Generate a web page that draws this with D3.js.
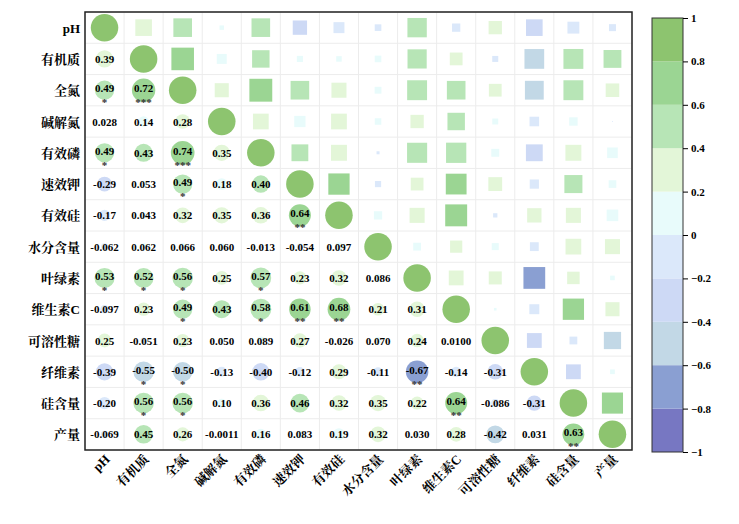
<!DOCTYPE html><html><head><meta charset="utf-8">
<script src="https://cdn.jsdelivr.net/npm/d3@7"></script>
<style>body{margin:0;background:#fff}</style></head><body><svg id="c" width="739" height="524"></svg>
<script>
const vars=["pH","有机质","全氮","碱解氮","有效磷","速效钾","有效硅","水分含量","叶绿素","维生素C","可溶性糖","纤维素","硅含量","产量"];
const lower=[
[],
[0.39],
[0.49,0.72],
[0.028,0.14,0.28],
[0.49,0.43,0.74,0.35],
[-0.29,0.053,0.49,0.18,0.40],
[-0.17,0.043,0.32,0.35,0.36,0.64],
[-0.062,0.062,0.066,0.060,-0.013,-0.054,0.097],
[0.53,0.52,0.56,0.25,0.57,0.23,0.32,0.086],
[-0.097,0.23,0.49,0.43,0.58,0.61,0.68,0.21,0.31],
[0.25,-0.051,0.23,0.050,0.089,0.27,-0.026,0.070,0.24,0.0100],
[-0.39,-0.55,-0.50,-0.13,-0.40,-0.12,0.29,-0.11,-0.67,-0.14,-0.31],
[-0.20,0.56,0.56,0.10,0.36,0.46,0.32,0.35,0.22,0.64,-0.086,-0.31],
[-0.069,0.45,0.26,-0.0011,0.16,0.083,0.19,0.32,0.030,0.28,-0.42,0.031,0.63]];
const labels=[
[],
["0.39"],
["0.49","0.72"],
["0.028","0.14","0.28"],
["0.49","0.43","0.74","0.35"],
["-0.29","0.053","0.49","0.18","0.40"],
["-0.17","0.043","0.32","0.35","0.36","0.64"],
["-0.062","0.062","0.066","0.060","-0.013","-0.054","0.097"],
["0.53","0.52","0.56","0.25","0.57","0.23","0.32","0.086"],
["-0.097","0.23","0.49","0.43","0.58","0.61","0.68","0.21","0.31"],
["0.25","-0.051","0.23","0.050","0.089","0.27","-0.026","0.070","0.24","0.0100"],
["-0.39","-0.55","-0.50","-0.13","-0.40","-0.12","0.29","-0.11","-0.67","-0.14","-0.31"],
["-0.20","0.56","0.56","0.10","0.36","0.46","0.32","0.35","0.22","0.64","-0.086","-0.31"],
["-0.069","0.45","0.26","-0.0011","0.16","0.083","0.19","0.32","0.030","0.28","-0.42","0.031","0.63"]];
const stars=[
[],
[""],
["*","***"],
["","",""],
["*","","***",""],
["","","*","",""],
["","","","","","**"],
["","","","","","",""],
["*","*","*","","*","","",""],
["","","*","","*","**","**","",""],
["","","","","","","","","",""],
["","*","*","","","","","","**","",""],
["","*","*","","","","","","","**","",""],
["","","","","","","","","","","","","**"]];
const binColors=["#7777c2","#8a9fd2","#c2d8e6","#cdd9f5","#dbe8fa","#e8fbfb","#e3f6d8","#b7e5b6","#9bd593","#8dc46f"];
const cbTicks=[-1,-0.8,-0.6,-0.4,-0.2,0,0.2,0.4,0.6,0.8,1];

const svg=d3.select("#c");
const L=85,R=632,T=12,B=450,n=vars.length;
const x=d3.scaleBand().domain(d3.range(n)).range([L,R]);
const y=d3.scaleBand().domain(d3.range(n)).range([T,B]);
const col=d3.scaleQuantize().domain([-1,1]).range(binColors);
const cw=x.bandwidth(),ch=y.bandwidth();
const font="'Liberation Serif','Noto Serif CJK SC','Noto Sans CJK SC',serif";
const val=(i,j)=>i===j?1:(i>j?lower[i][j]:lower[j][i]);
const g=svg.append("g");
for(let i=0;i<=n;i++){
 g.append("line").attr("x1",x(0)).attr("x2",R).attr("y1",T+i*ch).attr("y2",T+i*ch).attr("stroke","#ececec");
 g.append("line").attr("y1",T).attr("y2",B).attr("x1",L+i*cw).attr("x2",L+i*cw).attr("stroke","#ececec");
}
for(let i=0;i<n;i++)for(let j=0;j<n;j++){
 const v=val(i,j),cx=x(j)+cw/2,cy=y(i)+ch/2;
 if(j>i){
  const s=Math.sqrt(Math.abs(v))*ch*0.85;
  g.append("rect").attr("x",cx-s/2).attr("y",cy-s/2).attr("width",s).attr("height",s).attr("fill",col(v));
 } else {
  g.append("circle").attr("cx",cx).attr("cy",cy).attr("r",Math.sqrt(Math.abs(v))*ch*0.44).attr("fill",col(v));
  if(i>j){
   const st=stars[i][j];
   g.append("text").attr("x",cx).attr("y",cy+(st?2:4)).attr("text-anchor","middle").attr("font-family",font).attr("font-weight","bold").attr("font-size",11).text(labels[i][j]);
   if(st) g.append("text").attr("x",cx).attr("y",cy+16).attr("text-anchor","middle").attr("font-family",font).attr("font-weight","bold").attr("font-size",11).attr("fill","#333").text(st);
  }
 }
}
svg.append("rect").attr("x",L).attr("y",T).attr("width",R-L).attr("height",B-T).attr("fill","none").attr("stroke","#222").attr("stroke-width",1.5);
vars.forEach((v,i)=>{
 svg.append("text").attr("x",L-5).attr("y",y(i)+ch/2+5).attr("text-anchor","end").attr("font-family",font).attr("font-weight","bold").attr("font-size",13).text(v);
 svg.append("text").attr("transform",`translate(${x(i)+cw/2+6},${B+10}) rotate(-45)`).attr("text-anchor","end").attr("font-family",font).attr("font-weight","bold").attr("font-size",13).text(v);
});
const cbx=652,cbw=31;
const cy2=d3.scaleLinear().domain([1,-1]).range([18,452]);
binColors.forEach((c,k)=>{
 const lo=-1+k*0.2,hi=lo+0.2;
 svg.append("rect").attr("x",cbx).attr("y",cy2(hi)).attr("width",cbw).attr("height",cy2(lo)-cy2(hi)).attr("fill",c);
});
svg.append("rect").attr("x",cbx).attr("y",18).attr("width",cbw).attr("height",434).attr("fill","none").attr("stroke","#333");
const ax=svg.append("g").attr("transform",`translate(${cbx+cbw},0)`).call(d3.axisRight(cy2).tickValues(cbTicks).tickSize(5).tickFormat(d=>d3.format("")(d)));
ax.select(".domain").remove();
ax.selectAll("text").attr("font-family",font).attr("font-weight","bold").attr("font-size",11);
</script></body></html>
